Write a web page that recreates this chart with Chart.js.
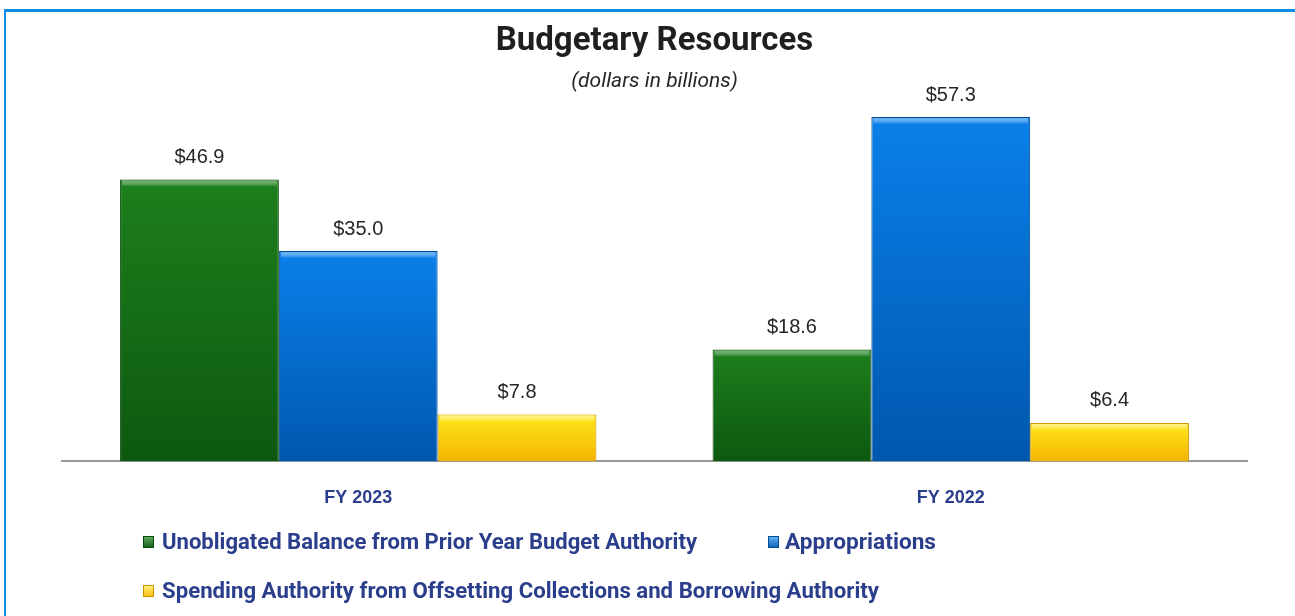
<!DOCTYPE html>
<html>
<head>
<meta charset="utf-8">
<title>Budgetary Resources</title>
<script src="https://cdn.jsdelivr.net/npm/chart.js@4.4.1/dist/chart.umd.min.js"></script>
<style>
    html, body { margin: 0; padding: 0; background: #fff; }
    #wrap { position: relative; width: 1295px; height: 616px; overflow: hidden; }
    #frame {
        position: absolute; left: 4px; top: 9px; width: 1400px; height: 700px;
        border-top: 3px solid #0b8de3; border-left: 2px solid #0b8de3;
    }
    canvas { position: absolute; left: 0; top: 0; }
</style>
</head>
<body>
<div id="wrap">
    <div id="frame"></div>
    <canvas id="myChart" width="1295" height="616"></canvas>
</div>
<script>
const years = ['FY 2023', 'FY 2022'];
const unobligated = [46.9, 18.6];
const appropriations = [35.0, 57.3];
const spendingAuthority = [7.8, 6.4];
const seriesNames = [
    'Unobligated Balance from Prior Year Budget Authority',
    'Appropriations',
    'Spending Authority from Offsetting Collections and Borrowing Authority'
];

const palettes = [
    {top: '#1d7f1c', bottom: '#0d5810', edge: '#0b4a0d', light: '#5aa85a'},
    {top: '#0a80ea', bottom: '#0057ae', edge: '#004a96', light: '#5fb0f5'},
    {top: '#ffe81a', bottom: '#f4b400', edge: '#c99400', light: '#fff27a'}
];

const navy = '#2b3e8c';

function barFill(idx) {
    return function (context) {
        const chart = context.chart;
        const p = palettes[idx];
        if (!chart.chartArea || !chart.scales.y || context.raw === undefined) {
            return p.top;
        }
        const y = chart.scales.y;
        const top = y.getPixelForValue(context.raw);
        const bottom = y.getPixelForValue(0);
        const g = chart.ctx.createLinearGradient(0, top, 0, bottom);
        g.addColorStop(0, p.top);
        g.addColorStop(1, p.bottom);
        return g;
    };
}

// little bevel + value labels on top of the bars
const barDecor = {
    id: 'barDecor',
    afterDatasetsDraw(chart) {
        const ctx = chart.ctx;
        ctx.save();
        chart.data.datasets.forEach((ds, i) => {
            const meta = chart.getDatasetMeta(i);
            meta.data.forEach((bar, j) => {
                const left = bar.x - bar.width / 2;
                const g = ctx.createLinearGradient(0, bar.y, 0, bar.y + 7);
                g.addColorStop(0, palettes[i].light);
                g.addColorStop(1, 'rgba(255,255,255,0)');
                ctx.fillStyle = g;
                ctx.fillRect(left + 2, bar.y + 1, bar.width - 4, 7);

                ctx.fillStyle = '#262626';
                ctx.font = '20px "Liberation Sans", Arial, sans-serif';
                ctx.textAlign = 'center';
                ctx.textBaseline = 'middle';
                ctx.fillText('$' + ds.data[j].toFixed(1), bar.x, bar.y - 22);
            });
        });
        ctx.restore();
    }
};

// legend laid out like the original (two rows, left aligned)
const customLegend = {
    id: 'customLegend',
    afterDraw(chart) {
        const ctx = chart.ctx;
        const items = [
            {x: 143, y: 543, w: 535},
            {x: 768, y: 543, w: 151},
            {x: 143, y: 592, w: 717}
        ];
        ctx.save();
        items.forEach((it, i) => {
            const p = palettes[i];
            const g = ctx.createLinearGradient(0, it.y - 6, 0, it.y + 6);
            g.addColorStop(0, p.light);
            g.addColorStop(1, p.bottom);
            ctx.fillStyle = g;
            ctx.fillRect(it.x, it.y - 7, 11, 12);
            ctx.strokeStyle = p.edge;
            ctx.lineWidth = 1;
            ctx.strokeRect(it.x + 0.5, it.y - 6.5, 10, 11);

            ctx.fillStyle = navy;
            ctx.font = 'bold 22px Roboto, sans-serif';
            ctx.textAlign = 'left';
            ctx.textBaseline = 'middle';
            const tx = i === 1 ? it.x + 17 : it.x + 19;
            const measured = ctx.measureText(seriesNames[i]).width;
            ctx.save();
            ctx.translate(tx, it.y);
            ctx.scale(it.w / measured, 1);
            ctx.fillText(seriesNames[i], 0, 0);
            ctx.restore();
        });
        ctx.restore();
    }
};

const datasets = [unobligated, appropriations, spendingAuthority].map((values, i) => ({
    label: seriesNames[i],
    data: values,
    backgroundColor: barFill(i),
    borderColor: palettes[i].edge,
    borderWidth: 1,
    categoryPercentage: 0.804,
    barPercentage: 1.0
}));

new Chart(document.getElementById('myChart'), {
    type: 'bar',
    data: {labels: years, datasets: datasets},
    options: {
        responsive: false,
        animation: false,
        layout: {padding: {top: 22, left: 62, right: 48, bottom: 81}},
        plugins: {
            legend: {display: false},
            tooltip: {enabled: false},
            title: {
                display: true,
                text: 'Budgetary Resources',
                color: '#1f1f1f',
                font: {family: 'Roboto', size: 33, weight: 'bold'},
                padding: {top: 0, bottom: 0}
            },
            subtitle: {
                display: true,
                text: '(dollars in billions)',
                color: '#262626',
                font: {family: 'Roboto', size: 21, style: 'italic'},
                padding: {top: 8, bottom: 6}
            }
        },
        scales: {
            x: {
                grid: {display: false, drawTicks: false},
                border: {display: true, color: '#9a9a9a', width: 2},
                ticks: {
                    color: navy,
                    padding: 26,
                    font: {family: 'Liberation Sans', size: 18, weight: 'bold'}
                }
            },
            y: {
                display: false,
                min: 0,
                max: 60
            }
        }
    },
    plugins: [barDecor, customLegend]
});
</script>
</body>
</html>
